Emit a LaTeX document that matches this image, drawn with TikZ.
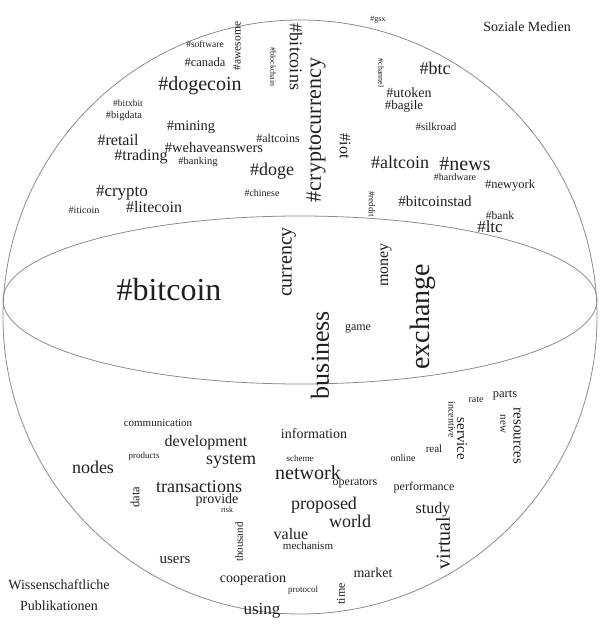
\documentclass[tikz,border=0pt]{standalone}
\usepackage{fontspec}
\setmainfont{Liberation Serif}
\newcommand{\wcw}[6][0]{\node[wd,font=\fontsize{#5}{#5}\selectfont,rotate=#1] (#2) at (#3,#4) {#6};}
\begin{document}
\begin{tikzpicture}[x=1pt,y=-1pt,
  wd/.style={inner sep=0pt,text=black!88},
  outline/.style={draw=black!45,line width=0.8pt}]
\useasboundingbox (0,0) rectangle (600,628);
\draw[outline] (300,317) circle (297pt);
\draw[outline] (300,300) ellipse [x radius=297pt,y radius=84pt];
% top
\wcw{soz}{527}{27}{14}{Soziale Medien}
\wcw{gsx}{378}{20}{8}{\#gsx}
\wcw{software}{205}{44}{9.5}{\#software}
\wcw{canada}{205}{62}{12.5}{\#canada}
\wcw[90]{awesome}{237}{46}{11.5}{\#awesome}
\wcw[-90]{blockchain}{273}{67}{8}{\#blockchain}
\wcw[-90]{bitcoins}{296}{57}{18}{\#bitcoins}
\wcw[90]{cryptocurrency}{316}{130}{22}{\#cryptocurrency}
\wcw[-90]{iot}{345}{146}{16}{\#iot}
\wcw{dogecoin}{200}{86}{20}{\#dogecoin}
\wcw{bitxbit}{128}{103}{9.5}{\#bitxbit}
\wcw{bigdata}{124}{116}{10.5}{\#bigdata}
\wcw{mining}{191}{127}{14.5}{\#mining}
\wcw{retail}{118}{140}{16}{\#retail}
\wcw{wehave}{214}{148}{14.5}{\#wehaveanswers}
\wcw{trading}{141}{157}{16}{\#trading}
\wcw{banking}{198}{162}{10.5}{\#banking}
\wcw{altcoins}{278}{138}{12}{\#altcoins}
\wcw{doge}{272}{171}{18}{\#doge}
\wcw{chinese}{262}{193}{10}{\#chinese}
\wcw{crypto}{122}{193}{17}{\#crypto}
\wcw{litecoin}{154}{207}{16}{\#litecoin}
\wcw{iticoin}{84}{210}{10}{\#iticoin}
\wcw{btc}{435}{68}{18}{\#btc}
\wcw[-90]{channel}{381}{73}{8}{\#channel}
\wcw{utoken}{409}{93}{14}{\#utoken}
\wcw{bagile}{404}{106}{13}{\#bagile}
\wcw{silkroad}{436}{127}{11}{\#silkroad}
\wcw{altcoin}{400}{162}{18}{\#altcoin}
\wcw{news}{465}{164}{20}{\#news}
\wcw{hardware}{455}{177}{10}{\#hardware}
\wcw{newyork}{510}{186}{12.5}{\#newyork}
\wcw{bitcoinstad}{435}{201}{15}{\#bitcoinstad}
\wcw[-90]{reddit}{372}{204}{9}{\#reddit}
\wcw{bank}{500}{216}{11.5}{\#bank}
\wcw{ltc}{490}{227}{17}{\#ltc}
% middle
\wcw{bitcoin}{169}{290}{32}{\#bitcoin}
\wcw[90]{currency}{289}{262}{20}{currency}
\wcw[90]{money}{386}{265}{16}{money}
\wcw[90]{exchange}{423}{317}{28}{exchange}
\wcw{game}{358}{329}{12}{game}
\wcw[90]{business}{320}{355}{26}{business}
% bottom
\wcw{communication}{158}{423}{11}{communication}
\wcw{development}{206}{443}{16}{development}
\wcw{products}{144}{456}{9}{products}
\wcw{system}{231}{461}{18}{system}
\wcw{nodes}{93}{467}{18}{nodes}
\wcw{information}{314}{434}{14}{information}
\wcw{scheme}{300}{458}{9}{scheme}
\wcw{network}{308}{473}{20}{network}
\wcw{operators}{355}{483}{12}{operators}
\wcw{online}{403}{458}{10}{online}
\wcw{real}{434}{449}{11}{real}
\wcw[-90]{incentive}{452}{420}{10}{incentive}
\wcw[-90]{service}{462}{439}{15}{service}
\wcw{rate}{476}{400}{10}{rate}
\wcw{parts}{505}{395}{12.5}{parts}
\wcw[-90]{new}{503}{424}{11}{new}
\wcw[-90]{resources}{517}{436}{15}{resources}
\wcw{performance}{424}{488}{12}{performance}
\wcw{transactions}{199}{487}{18}{transactions}
\wcw[90]{data}{135}{497}{12.5}{data}
\wcw{provide}{217}{500}{14}{provide}
\wcw{risk}{227}{510}{8}{risk}
\wcw{proposed}{324}{505}{18}{proposed}
\wcw{world}{350}{521}{18}{world}
\wcw{study}{433}{510}{16}{study}
\wcw[90]{virtual}{443}{543}{20}{virtual}
\wcw{value}{291}{534}{16}{value}
\wcw{mechanism}{308}{546}{11}{mechanism}
\wcw[90]{thousand}{239}{542}{11}{thousand}
\wcw{users}{175}{560}{15}{users}
\wcw{cooperation}{253}{579}{14}{cooperation}
\wcw{protocol}{303}{590}{9}{protocol}
\wcw{market}{373}{573}{14}{market}
\wcw[90]{time}{341}{594}{12}{time}
\wcw{using}{262}{611}{17}{using}
\node[wd,font=\fontsize{14}{21}\selectfont,align=center] (wiss) at (59,595) {Wissenschaftliche\\Publikationen};
\end{tikzpicture}
\end{document}
